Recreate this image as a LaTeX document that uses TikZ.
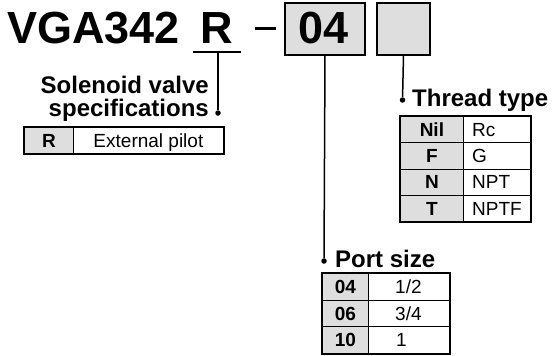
\documentclass[tikz,border=0pt]{standalone}
\usepackage{fontspec}
\setmainfont{Liberation Sans}
\definecolor{keygray}{RGB}{222,222,222}
\begin{document}
\begin{tikzpicture}[x=1pt,y=-1pt,
  titletext/.style={font=\fontsize{45}{45}\selectfont\bfseries, inner sep=0pt},
  codebox/.style={draw, line width=2pt, fill=keygray, inner sep=0pt, anchor=north west},
  headtext/.style={font=\fontsize{24}{24}\selectfont\bfseries, inner sep=0pt},
  conn/.style={line width=1.5pt},
  pin/.style={circle, fill=black, inner sep=0pt, minimum size=5.5pt},
  keycell/.style={draw, line width=0.8pt, fill=keygray, inner sep=0pt, anchor=north west,
    font=\fontsize{19}{19}\selectfont\bfseries, text height=13.5pt, text depth=0pt},
  valcell/.style={draw, line width=0.8pt, inner sep=0pt, anchor=north west,
    font=\fontsize{19}{19}\selectfont, text height=13.5pt, text depth=0pt},
  valtext/.style={inner sep=0pt, anchor=west, font=\fontsize{19}{19}\selectfont, text height=13.5pt, text depth=0pt},
  outer/.style={line width=1.4pt}
]
\useasboundingbox (0,0) rectangle (552,356);

% model code
\node[titletext, anchor=base west] (model) at (7,43) {VGA342};
\node[titletext, anchor=base west] (rcode) at (200,43) {R};
\coordinate (ulL) at (193,52);
\coordinate (ulR) at (241,52);
\coordinate (ulM) at (218,52);
\draw[line width=1.8pt] (ulL) -- (ulR);
\coordinate (dashL) at (255,28.5);
\coordinate (dashR) at (276,28.5);
\draw[line width=3pt] (dashL) -- (dashR);
\node[codebox, minimum width=80pt, minimum height=52pt] (b1) at (284,1.5) {};
\node[titletext, anchor=base] (b1t) at (324,43) {04};
\node[codebox, minimum width=53pt, minimum height=52pt] (b2) at (376,1.5) {};

% solenoid valve specifications
\node[headtext, anchor=base east] (sol1) at (209,93) {Solenoid valve};
\node[headtext, anchor=base east] (sol2) at (209,116) {specifications};
\node[pin] (solpin) at (218,113) {};
\draw[conn] (ulM) -- (solpin);
\node[keycell, minimum width=49pt, minimum height=26pt] (rk) at (24,127) {R};
\node[valcell, minimum width=150pt, minimum height=26pt] (rv) at (73,127) {External pilot};
\draw[outer] (rk.north west) rectangle (rv.south east);

% thread type
\node[pin] (thpin) at (402.5,100) {};
\draw[conn] (b2.south) -- (thpin);
\node[headtext, anchor=base west] (thhead) at (412,106) {Thread type};
\node[keycell, minimum width=63pt, minimum height=26.25pt] (t1k) at (400,116) {Nil};
\node[valcell, minimum width=67pt, minimum height=26.25pt] (t1v) at (463,116) {};
\node[keycell, minimum width=63pt, minimum height=26.25pt] (t2k) at (400,142.25) {F};
\node[valcell, minimum width=67pt, minimum height=26.25pt] (t2v) at (463,142.25) {};
\node[keycell, minimum width=63pt, minimum height=26.25pt] (t3k) at (400,168.5) {N};
\node[valcell, minimum width=67pt, minimum height=26.25pt] (t3v) at (463,168.5) {};
\node[keycell, minimum width=63pt, minimum height=26.25pt] (t4k) at (400,194.75) {T};
\node[valcell, minimum width=67pt, minimum height=26.25pt] (t4v) at (463,194.75) {};
\node[valtext] at ([xshift=9pt]t1v.west) {Rc};
\node[valtext] at ([xshift=9pt]t2v.west) {G};
\node[valtext] at ([xshift=9pt]t3v.west) {NPT};
\node[valtext] at ([xshift=9pt]t4v.west) {NPTF};
\draw[outer] (t1k.north west) rectangle (t4v.south east);

% port size
\node[pin] (ppin) at (324,261) {};
\draw[conn] (b1.south) -- (ppin);
\node[headtext, anchor=base west] (phead) at (335,267) {Port size};
\node[keycell, minimum width=46pt, minimum height=26.67pt] (p1k) at (322,273) {04};
\node[valcell, minimum width=81pt, minimum height=26.67pt] (p1v) at (368,273) {};
\node[keycell, minimum width=46pt, minimum height=26.67pt] (p2k) at (322,299.67) {06};
\node[valcell, minimum width=81pt, minimum height=26.67pt] (p2v) at (368,299.67) {};
\node[keycell, minimum width=46pt, minimum height=26.67pt] (p3k) at (322,326.33) {10};
\node[valcell, minimum width=81pt, minimum height=26.67pt] (p3v) at (368,326.33) {};
\node[valtext] at ([xshift=27pt]p1v.west) {1/2};
\node[valtext] at ([xshift=27pt]p2v.west) {3/4};
\node[valtext] at ([xshift=28pt]p3v.west) {1};
\draw[outer] (p1k.north west) rectangle (p3v.south east);
\end{tikzpicture}
\end{document}
